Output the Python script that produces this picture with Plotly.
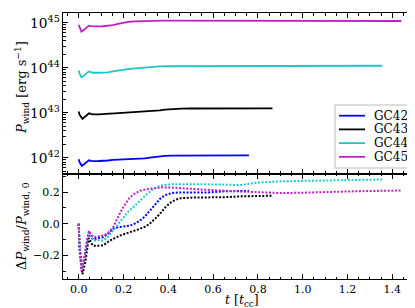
import plotly.graph_objects as go

names = ["GC42", "GC43", "GC44", "GC45"]
colors = ["#0000ff", "#000000", "#1fc8c8", "#c21fc2"]
P0 = [0.93e42, 1.07e43, 0.87e44, 0.91e45]

t_GC42 = [0, 0.004, 0.014, 0.025, 0.038, 0.046, 0.055, 0.064, 0.09, 0.108, 0.13, 0.153, 0.175, 0.2,
          0.228, 0.25, 0.272, 0.295, 0.317, 0.34, 0.362, 0.385, 0.414, 0.444, 0.5, 0.578, 0.652, 0.727, 0.76]
d_GC42 = [0, -0.15, -0.29, -0.22, -0.11, -0.055, -0.085, -0.10, -0.09, -0.086, -0.065, -0.033, -0.023, -0.018,
          -0.012, 0.0, 0.019, 0.045, 0.082, 0.12, 0.156, 0.18, 0.194, 0.198, 0.198, 0.198, 0.205, 0.208, 0.208]

t_GC43 = [0, 0.004, 0.017, 0.03, 0.04, 0.046, 0.055, 0.064, 0.09, 0.11, 0.138, 0.16, 0.183, 0.205, 0.228,
          0.25, 0.272, 0.295, 0.317, 0.34, 0.362, 0.384, 0.414, 0.44, 0.459, 0.5, 0.578, 0.65, 0.727, 0.8, 0.865]
d_GC43 = [0, -0.15, -0.32, -0.24, -0.14, -0.09, -0.12, -0.139, -0.139, -0.137, -0.107, -0.09, -0.076, -0.065,
          -0.055, -0.045, -0.033, -0.02, 0.0, 0.03, 0.061, 0.1, 0.138, 0.155, 0.162, 0.165, 0.166, 0.168,
          0.173, 0.175, 0.177]

t_GC44 = [0, 0.004, 0.012, 0.025, 0.038, 0.046, 0.055, 0.064, 0.09, 0.108, 0.13, 0.153, 0.175, 0.198, 0.22,
          0.243, 0.265, 0.287, 0.31, 0.332, 0.36, 0.39, 0.43, 0.5, 0.58, 0.65, 0.72, 0.76, 0.8, 0.9, 1.0,
          1.1, 1.2, 1.355]
d_GC44 = [0, -0.15, -0.29, -0.22, -0.10, -0.044, -0.08, -0.107, -0.105, -0.107, -0.085, -0.044, 0.0, 0.04,
          0.075, 0.103, 0.135, 0.166, 0.195, 0.219, 0.238, 0.247, 0.25, 0.25, 0.25, 0.248, 0.244, 0.25, 0.26,
          0.268, 0.27, 0.273, 0.277, 0.28]

t_GC45 = [0, 0.004, 0.012, 0.025, 0.038, 0.046, 0.055, 0.068, 0.09, 0.108, 0.13, 0.153, 0.175, 0.198, 0.228,
          0.25, 0.272, 0.3, 0.332, 0.377, 0.42, 0.5, 0.6, 0.7, 0.8, 0.9, 1.0, 1.1, 1.2, 1.3, 1.44]
d_GC45 = [0, -0.15, -0.30, -0.22, -0.10, -0.045, -0.07, -0.086, -0.08, -0.075, -0.06, -0.023, 0.04, 0.103,
          0.166, 0.19, 0.208, 0.218, 0.223, 0.23, 0.228, 0.219, 0.212, 0.205, 0.198, 0.194, 0.196, 0.202,
          0.204, 0.207, 0.21]

ts = [t_GC42, t_GC43, t_GC44, t_GC45]
ds = [d_GC42, d_GC43, d_GC44, d_GC45]

FONT = "DejaVu Serif, Liberation Serif, serif"
fig = go.Figure()
for name, c, p0, t, d in zip(names, colors, P0, ts, ds):
    P = [p0 * (1 + v) for v in d]
    fig.add_trace(go.Scatter(x=t, y=P, mode="lines", name=name, line=dict(color=c, width=1.8),
                             xaxis="x2", yaxis="y2", showlegend=False))
for name, c, t, d in zip(names, colors, ts, ds):
    fig.add_trace(go.Scatter(x=t, y=d, mode="lines", name=name, showlegend=False,
                             line=dict(color=c, width=2, dash="2px,1.6px"), xaxis="x", yaxis="y"))

axcommon = dict(showline=True, linecolor="black", linewidth=1, mirror="allticks", ticks="inside",
                ticklen=5, tickwidth=1, tickcolor="black", showgrid=False, zeroline=False,
                tickfont=dict(family=FONT, size=11, color="black"))
fig.update_layout(
    width=415, height=308, margin=dict(l=55, r=6, t=5, b=37),
    plot_bgcolor="white", paper_bgcolor="white",
    font=dict(family=FONT, color="black"),
    xaxis=dict(domain=[0, 1], range=[-0.07, 1.51], dtick=0.2, tick0=0, tickformat=".1f",
               anchor="y", minor=dict(ticks="inside", ticklen=2.5, dtick=0.05, tickcolor="black"),
               **axcommon),
    yaxis=dict(domain=[0, 0.395], range=[-0.35, 0.315], dtick=0.2, tick0=0, tickformat=".1f",
               anchor="x", minor=dict(ticks="inside", ticklen=2.5, dtick=0.1, tickcolor="black"),
               **axcommon),
    xaxis2=dict(domain=[0, 1], range=[-0.07, 1.51], dtick=0.2, tick0=0, matches="x", anchor="y2",
                showticklabels=False,
                minor=dict(ticks="inside", ticklen=2.5, dtick=0.05, tickcolor="black"), **axcommon),
    yaxis2=dict(domain=[0.395, 1], type="log", range=[41.64, 45.22], dtick=1, exponentformat="power",
                anchor="x2", minor=dict(ticks="inside", ticklen=2.5, dtick="D1", tickcolor="black"),
                **axcommon),
    showlegend=False,
)

def px_x(px):
    return (px - 55) / 354

def px_y(py):
    return 1 - (py - 5) / 266

# axis titles
fig.add_annotation(text="<i>t</i> [<i>t</i><sub>cc</sub>]", xref="paper", yref="paper",
                   x=px_x(234), y=px_y(292), xanchor="center", yanchor="middle", showarrow=False,
                   font=dict(family=FONT, size=12.5, color="black"))
fig.add_annotation(text="<i>P</i><sub>wind</sub> [erg s<sup>−1</sup>]", xref="paper", yref="paper",
                   x=px_x(14), y=px_y(80), xanchor="center", yanchor="middle", showarrow=False,
                   textangle=-90, font=dict(family=FONT, size=13, color="black"))
fig.add_annotation(text="Δ<i>P</i><sub>wind</sub>/<i>P</i><sub>wind, 0</sub>", xref="paper", yref="paper",
                   x=px_x(14), y=px_y(218), xanchor="center", yanchor="middle", showarrow=False,
                   textangle=-90, font=dict(family=FONT, size=13, color="black"))

# legend box
lx0, lx1, ly0, ly1 = px_x(327), px_x(403), px_y(160), px_y(97)
fig.add_shape(type="rect", xref="paper", yref="paper", x0=lx0, x1=lx1, y0=ly0, y1=ly1,
              line=dict(color="#bdbdbd", width=1.1), fillcolor="white", opacity=1, layer="above")
for i, (name, c) in enumerate(zip(names, colors)):
    yc = 107.7 + i * 13.7
    fig.add_shape(type="line", xref="paper", yref="paper", x0=px_x(331), x1=px_x(357),
                  y0=px_y(yc), y1=px_y(yc), line=dict(color=c, width=1.8), layer="above")
    fig.add_annotation(text=name, xref="paper", yref="paper", x=px_x(364), y=px_y(yc),
                       xanchor="left", yanchor="middle", showarrow=False,
                       font=dict(family=FONT, size=12, color="black"))
fig.write_html("out.html")
